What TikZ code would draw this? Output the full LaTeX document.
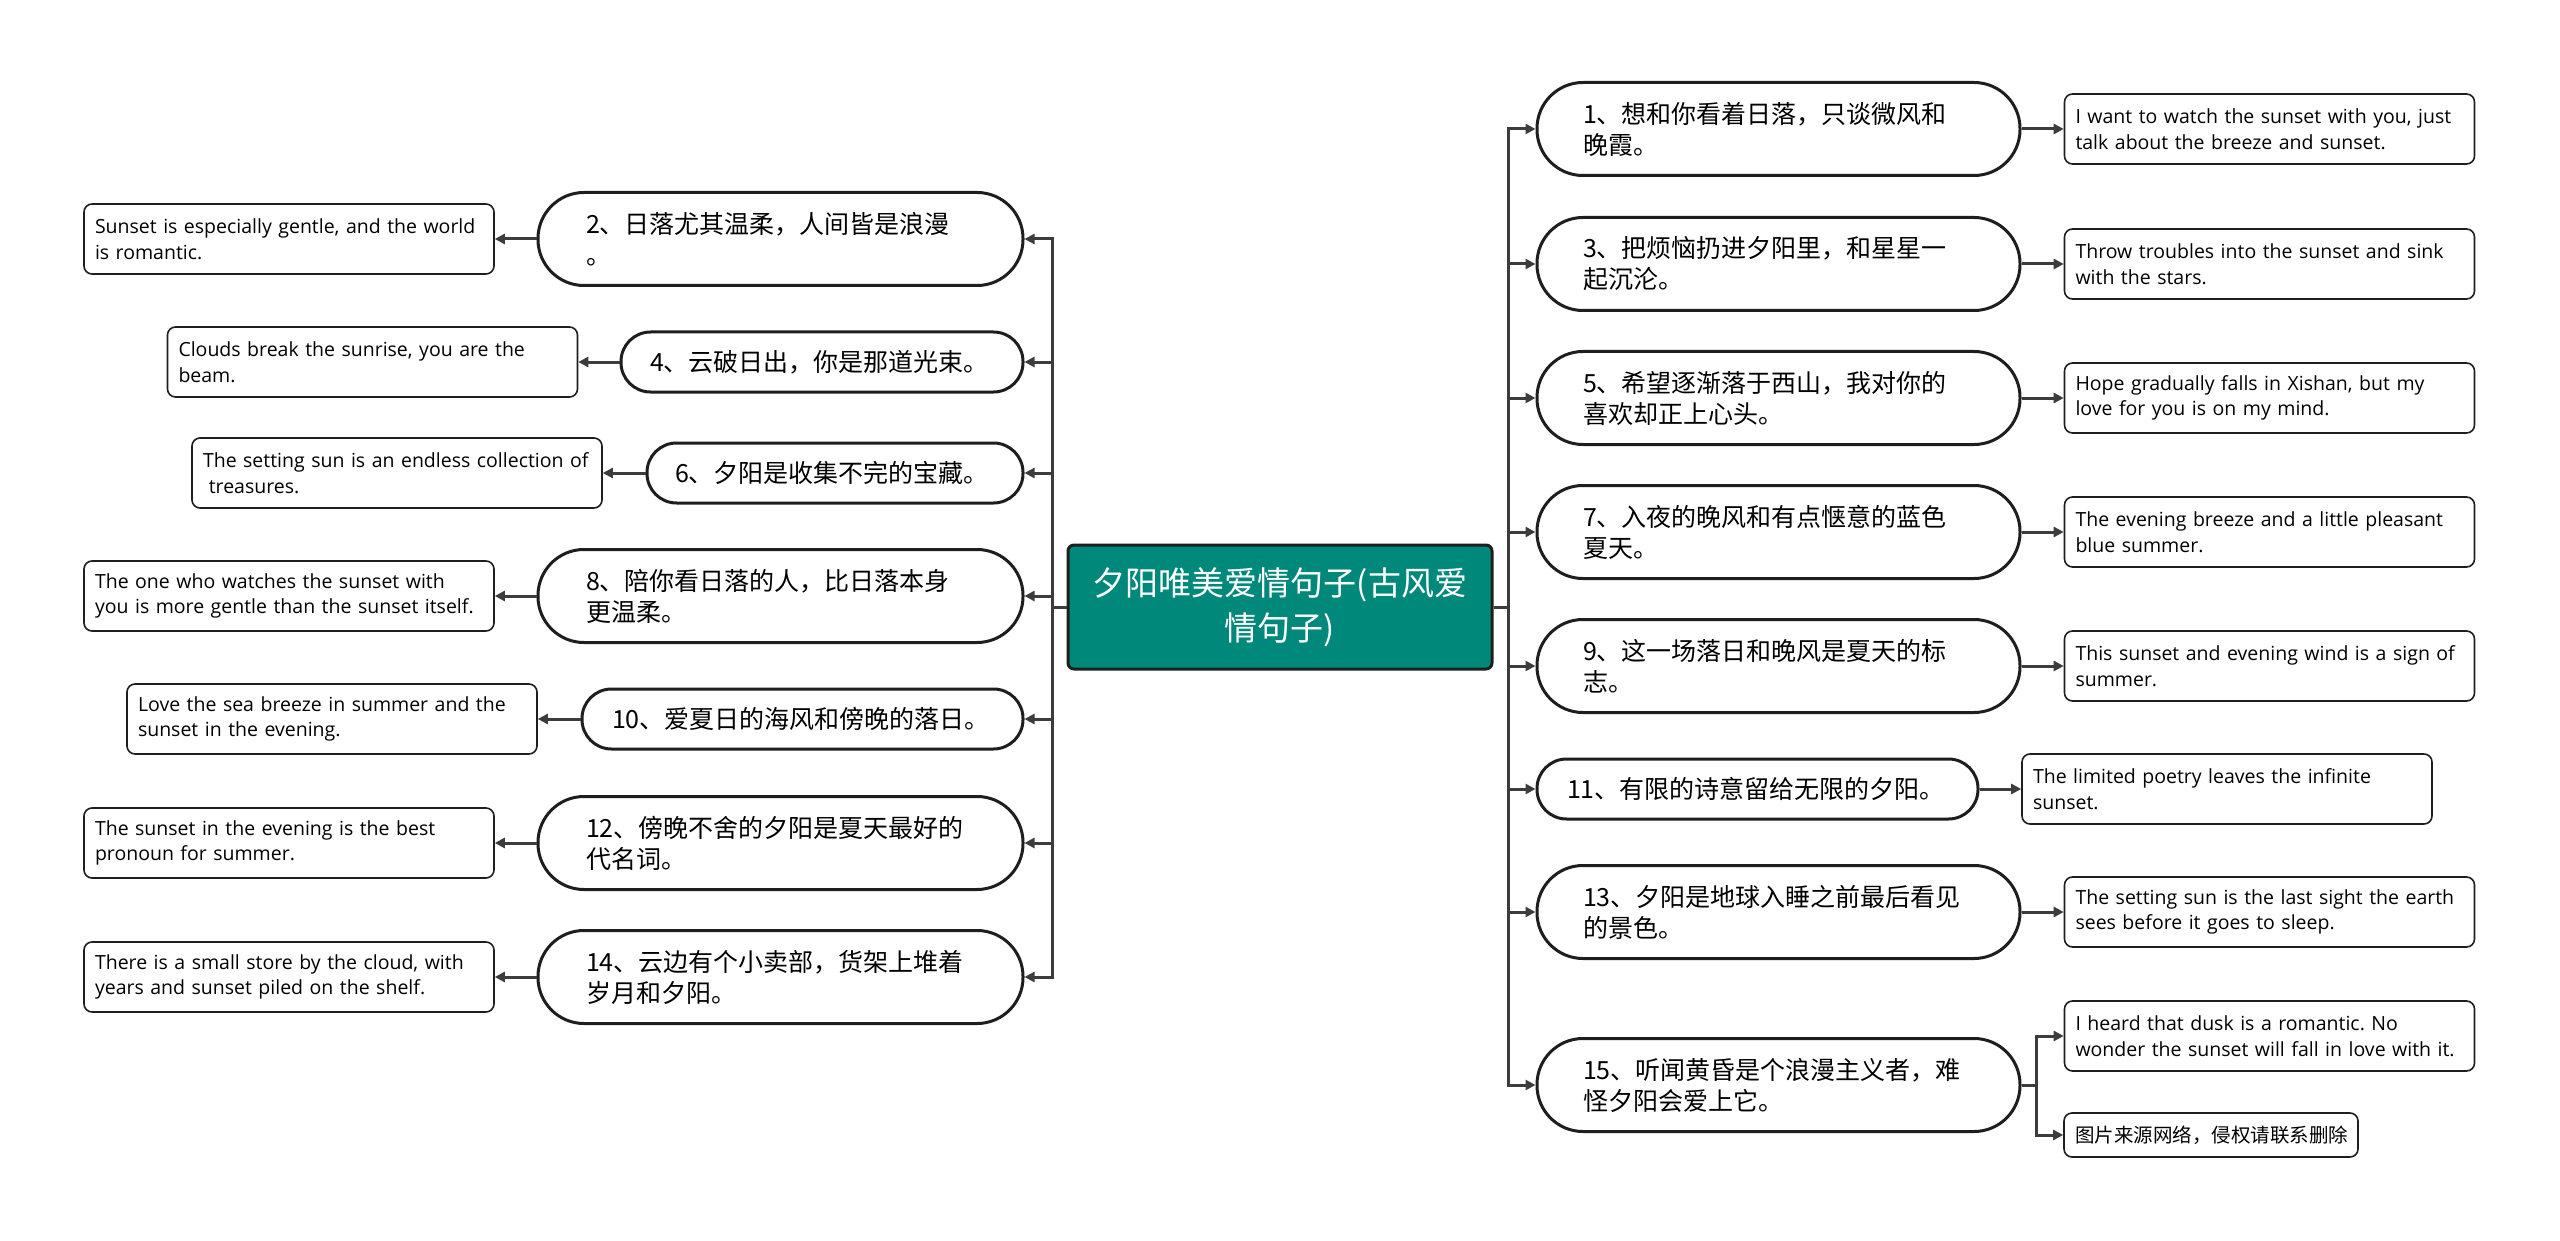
\documentclass[tikz,border=0pt]{standalone}
\usepackage{fontspec}
\setmainfont{Open Sans}
\newfontfamily\cjk{Noto Sans CJK SC}
\usetikzlibrary{arrows.meta}
\frenchspacing
\definecolor{teal1}{RGB}{0,137,123}
\definecolor{linec}{RGB}{60,60,60}
\definecolor{bord}{RGB}{30,30,30}
\tikzset{
  mainbase/.style={draw=bord, line width=3pt, fill=white, align=left, inner ysep=0pt,
    font=\cjk\fontsize{25pt}{31pt}\selectfont},
  mainTwo/.style={mainbase, minimum height=93pt, rounded corners=46pt},
  mainOne/.style={mainbase, minimum height=60pt, rounded corners=29.5pt},
  leaf/.style={draw=bord, line width=1.6pt, fill=white, rounded corners=8pt, align=left,
    minimum height=70pt, inner ysep=0pt, inner xsep=11pt, text width=388pt,
    font=\frenchspacing\fontsize{19.5pt}{25.5pt}\selectfont},
  center/.style={draw=bord, line width=3pt, fill=teal1, rounded corners=6pt, text=white,
    align=center, minimum width=424pt, minimum height=124pt, text width=400pt, inner xsep=12pt,
    font=\cjk\fontsize{33pt}{45pt}\selectfont},
  link/.style={draw=linec, line width=3pt, -{Triangle[length=10pt,width=10pt]}},
  plain/.style={draw=linec, line width=3pt}
}
\begin{document}
\begin{tikzpicture}[x=1pt,y=-1pt]
\useasboundingbox[fill=white] (0,0) rectangle (2560,1241);

\node[center] (c) at (1280,607) {夕阳唯美爱情句子(古风爱\\情句子)};
\coordinate (rsp) at (1508,607);
\coordinate (lsp) at (1052,607);

% right main nodes
\node[mainTwo, text width=391pt, inner xsep=46pt] (r1) at (1778.5,129) {1、想和你看着日落，只谈微风和\\晚霞。};
\node[mainTwo, text width=391pt, inner xsep=46pt] (r3) at (1778.5,264) {3、把烦恼扔进夕阳里，和星星一\\起沉沦。};
\node[mainTwo, text width=391pt, inner xsep=46pt] (r5) at (1778.5,398) {5、希望逐渐落于西山，我对你的\\喜欢却正上心头。};
\node[mainTwo, text width=391pt, inner xsep=46pt] (r7) at (1778.5,532) {7、入夜的晚风和有点惬意的蓝色\\夏天。};
\node[mainTwo, text width=391pt, inner xsep=46pt] (r9) at (1778.5,666) {9、这一场落日和晚风是夏天的标\\志。};
\node[mainOne, text width=381pt, inner xsep=30pt] (r11) at (1757.5,789) {11、有限的诗意留给无限的夕阳。};
\node[mainTwo, text width=391pt, inner xsep=46pt] (r13) at (1778.5,912) {13、夕阳是地球入睡之前最后看见\\的景色。};
\node[mainTwo, text width=391pt, inner xsep=46pt] (r15) at (1778.5,1085) {15、听闻黄昏是个浪漫主义者，难\\怪夕阳会爱上它。};

% right leaves
\node[leaf] (q1) at (2269.5,129) {I want to watch the sunset with you, just\\talk about the breeze and sunset.};
\node[leaf] (q3) at (2269.5,264) {Throw troubles into the sunset and sink\\with the stars.};
\node[leaf] (q5) at (2269.5,398) {Hope gradually falls in Xishan, but my\\love for you is on my mind.};
\node[leaf] (q7) at (2269.5,532) {The evening breeze and a little pleasant\\blue summer.};
\node[leaf] (q9) at (2269.5,666) {This sunset and evening wind is a sign of\\summer.};
\node[leaf] (q11) at (2227,789) {The limited poetry leaves the infinite\\sunset.};
\node[leaf] (q13) at (2269.5,912) {The setting sun is the last sight the earth\\sees before it goes to sleep.};
\node[leaf] (q15a) at (2269.5,1036) {I heard that dusk is a romantic. No\\wonder the sunset will fall in love with it.};
\node[leaf, text width=272pt, minimum height=44pt, font=\cjk\fontsize{19.5pt}{24pt}\selectfont] (q15b) at (2211,1135) {图片来源网络，侵权请联系删除};
\coordinate (j15) at (2036,1085);

% left main nodes
\node[mainTwo, text width=389pt, inner xsep=48pt] (l2) at (780.5,239) {2、日落尤其温柔，人间皆是浪漫\\。};
\node[mainOne, text width=344pt, inner xsep=29pt] (l4) at (822,362) {4、云破日出，你是那道光束。};
\node[mainOne, text width=320pt, inner xsep=28pt] (l6) at (835,473) {6、夕阳是收集不完的宝藏。};
\node[mainTwo, text width=389pt, inner xsep=48pt] (l8) at (780.5,596) {8、陪你看日落的人，比日落本身\\更温柔。};
\node[mainOne, text width=381pt, inner xsep=30pt] (l10) at (802.5,719) {10、爱夏日的海风和傍晚的落日。};
\node[mainTwo, text width=389pt, inner xsep=48pt] (l12) at (780.5,843) {12、傍晚不舍的夕阳是夏天最好的\\代名词。};
\node[mainTwo, text width=389pt, inner xsep=48pt] (l14) at (780.5,977) {14、云边有个小卖部，货架上堆着\\岁月和夕阳。};

% left leaves
\node[leaf] (p2) at (289,239) {Sunset is especially gentle, and the world\\is romantic.};
\node[leaf] (p4) at (372.5,362) {Clouds break the sunrise, you are the\\beam.};
\node[leaf] (p6) at (397,473) {The setting sun is an endless collection of\\\hspace*{0.3em}treasures.};
\node[leaf] (p8) at (289,596) {The one who watches the sunset with\\you is more gentle than the sunset itself.};
\node[leaf] (p10) at (332,719) {Love the sea breeze in summer and the\\sunset in the evening.};
\node[leaf] (p12) at (289,843) {The sunset in the evening is the best\\pronoun for summer.};
\node[leaf] (p14) at (289,977) {There is a small store by the cloud, with\\years and sunset piled on the shelf.};

% right connectors
\foreach \n in {1,3,5,7,9,11,13,15}{
  \draw[link] (c.east) -- (rsp) |- (r\n.west);
}
\foreach \n in {1,3,5,7,9,11,13}{
  \draw[link] (r\n.east) -- (q\n.west);
}
\draw[plain] (r15.east) -- (j15);
\draw[link] (j15) |- (q15a.west);
\draw[link] (j15) |- (q15b.west);

% left connectors
\foreach \n in {2,4,6,8,10,12,14}{
  \draw[link] (c.west) -- (lsp) |- (l\n.east);
  \draw[link] (l\n.west) -- (p\n.east);
}
\end{tikzpicture}
\end{document}
